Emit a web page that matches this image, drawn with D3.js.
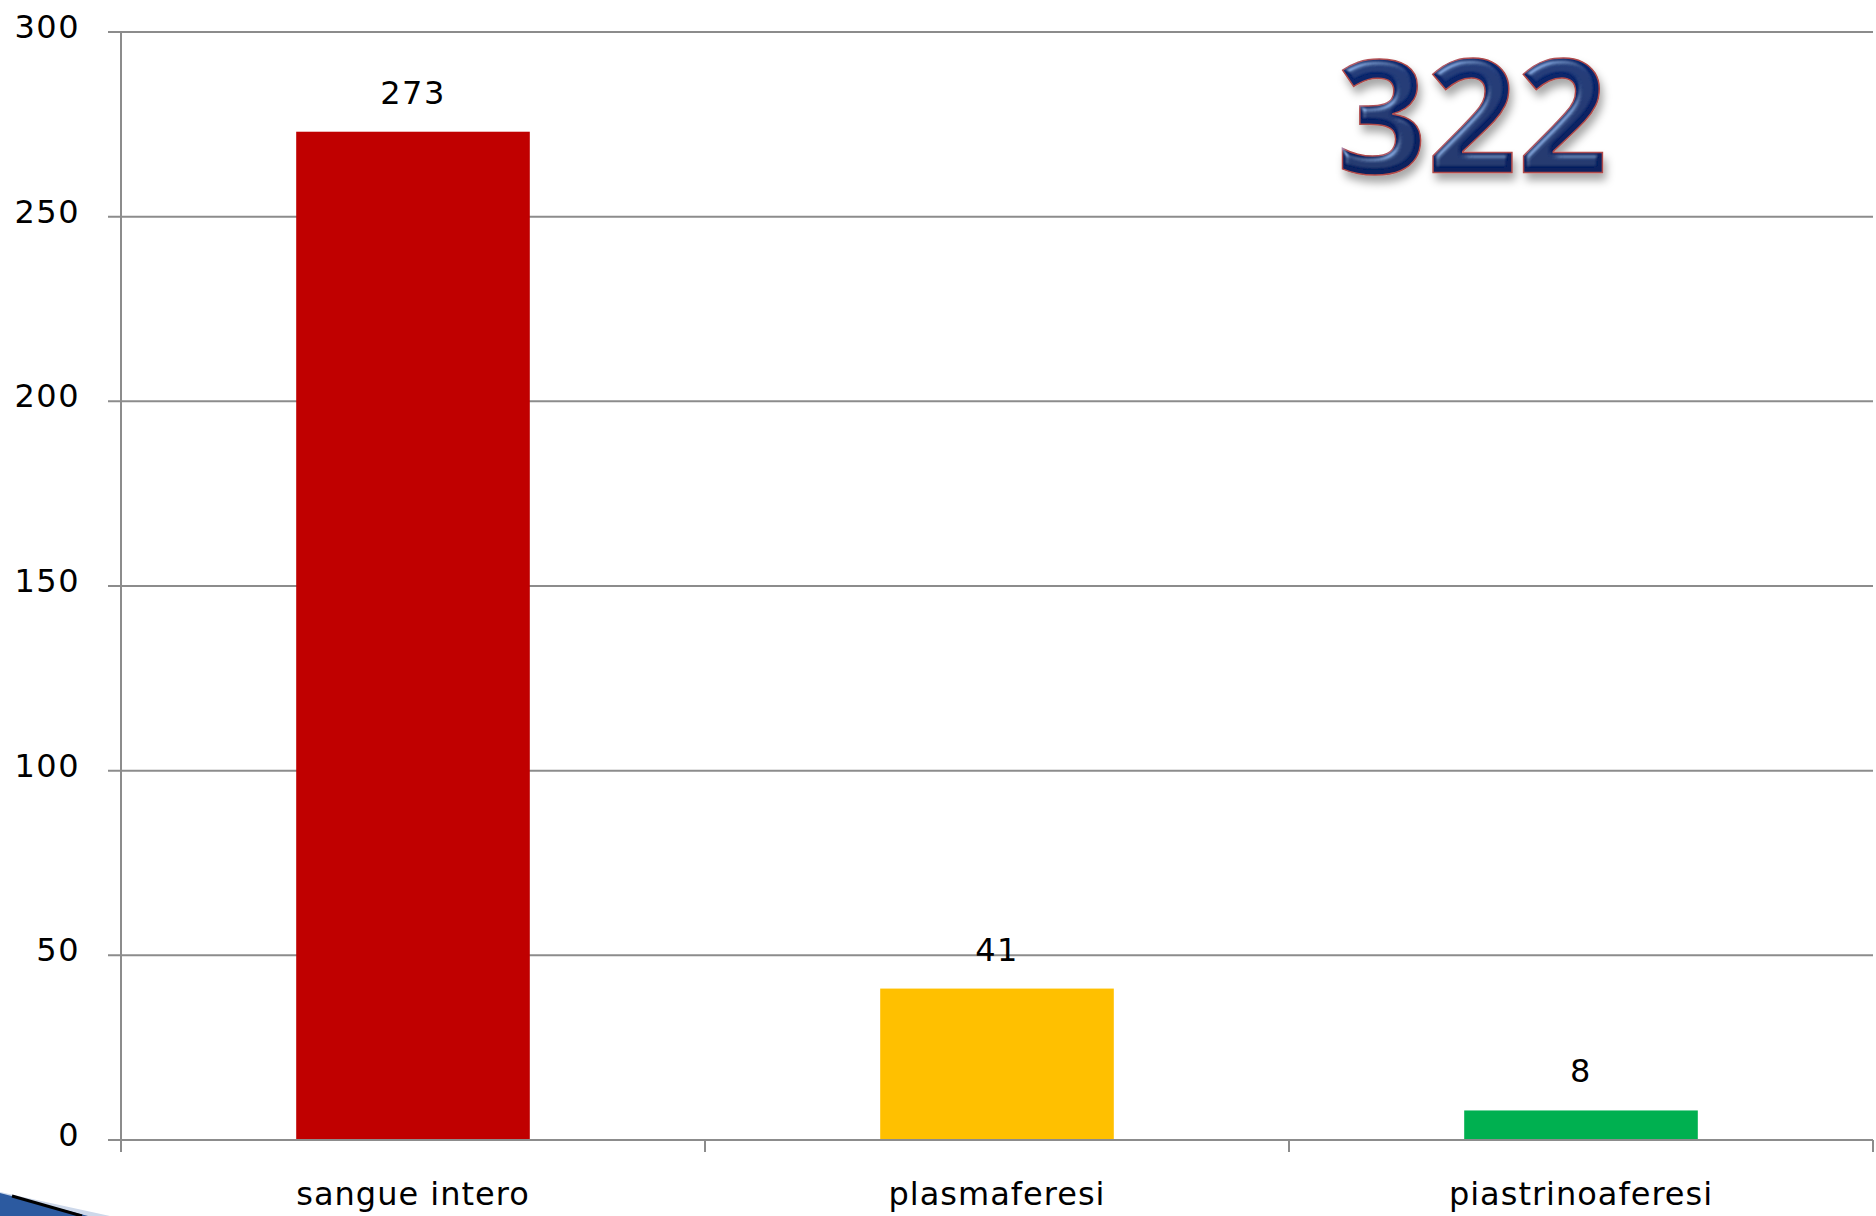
<!DOCTYPE html>
<html>
<head>
<meta charset="utf-8">
<script src="https://cdn.jsdelivr.net/npm/d3@7"></script>
<style>
  html, body { margin: 0; padding: 0; background: #fff; }
  svg { display: block; }
  .tick-label, .cat-label, .val-label { font-family: "DejaVu Sans", Verdana, sans-serif; fill: #000; }
</style>
</head>
<body>
<div id="chart"></div>
<script>
// data
var categories = ['sangue intero', 'plasmaferesi', 'piastrinoaferesi'];
var values = [273, 41, 8];
var barColors = ['#C00000', '#FFC000', '#00B050'];
var yTicks = [0, 50, 100, 150, 200, 250, 300];
var totalLabel = '322';

var width = 1876, height = 1216;
var plotLeft = 121, plotRight = 1873, plotTop = 32, plotBottom = 1140;

var svg = d3.select('#chart')
  .append('svg')
  .attr('width', width)
  .attr('height', height);

var defs = svg.append('defs');

// scales
var x = d3.scaleBand()
  .domain(categories)
  .range([plotLeft, plotRight])
  .paddingInner(0.6)
  .paddingOuter(0.3);

var y = d3.scaleLinear()
  .domain([0, 300])
  .range([plotBottom, plotTop]);

// gridlines + y ticks
svg.selectAll('.grid')
  .data(yTicks)
  .enter()
  .append('line')
  .attr('class', 'grid')
  .attr('x1', plotLeft - 13)
  .attr('x2', plotRight)
  .attr('y1', function(d){ return y(d); })
  .attr('y2', function(d){ return y(d); })
  .attr('stroke', '#8c8c8c')
  .attr('stroke-width', 2);

svg.selectAll('.tick-label')
  .data(yTicks)
  .enter()
  .append('text')
  .attr('class', 'tick-label')
  .attr('x', 80)
  .attr('y', function(d){ return y(d) + 6; })
  .attr('text-anchor', 'end')
  .attr('font-size', 32)
  .attr('letter-spacing', 1.5)
  .text(function(d){ return d; });

// y axis line
svg.append('line')
  .attr('x1', plotLeft).attr('x2', plotLeft)
  .attr('y1', plotTop).attr('y2', plotBottom + 12)
  .attr('stroke', '#8c8c8c')
  .attr('stroke-width', 2);

// category ticks at band edges
var edges = [plotLeft].concat(categories.map(function(c, i){ return plotLeft + x.step() * (i + 1); }));
svg.selectAll('.cat-tick')
  .data(edges)
  .enter()
  .append('line')
  .attr('class', 'cat-tick')
  .attr('x1', function(d){ return d; })
  .attr('x2', function(d){ return d; })
  .attr('y1', plotBottom)
  .attr('y2', plotBottom + 12)
  .attr('stroke', '#8c8c8c')
  .attr('stroke-width', 2);

// bars
svg.selectAll('.bar')
  .data(values)
  .enter()
  .append('rect')
  .attr('class', 'bar')
  .attr('x', function(d, i){ return x(categories[i]); })
  .attr('width', x.bandwidth())
  .attr('y', function(d){ return y(d); })
  .attr('height', function(d){ return plotBottom - y(d); })
  .attr('fill', function(d, i){ return barColors[i]; });

// base line on top of bars
svg.append('line')
  .attr('x1', plotLeft - 13).attr('x2', plotRight)
  .attr('y1', plotBottom).attr('y2', plotBottom)
  .attr('stroke', '#8c8c8c')
  .attr('stroke-width', 2);

// value labels
svg.selectAll('.val-label')
  .data(values)
  .enter()
  .append('text')
  .attr('class', 'val-label')
  .attr('x', function(d, i){ return x(categories[i]) + x.bandwidth() / 2; })
  .attr('y', function(d){ return y(d) - 28; })
  .attr('text-anchor', 'middle')
  .attr('font-size', 32)
  .attr('letter-spacing', 1.5)
  .text(function(d){ return d; });

// category labels
svg.selectAll('.cat-label')
  .data(categories)
  .enter()
  .append('text')
  .attr('class', 'cat-label')
  .attr('x', function(d){ return x(d) + x.bandwidth() / 2; })
  .attr('y', 1205)
  .attr('text-anchor', 'middle')
  .attr('font-size', 32)
  .attr('letter-spacing', 1)
  .text(function(d){ return d; });

// ============== big total ==============
var grad = defs.append('linearGradient')
  .attr('id', 'totGrad')
  .attr('x1', 0).attr('y1', 0).attr('x2', 0).attr('y2', 1);
grad.append('stop').attr('offset', '0%').attr('stop-color', '#14307a');
grad.append('stop').attr('offset', '50%').attr('stop-color', '#0a2364');
grad.append('stop').attr('offset', '100%').attr('stop-color', '#081e5a');

var filt = defs.append('filter')
  .attr('id', 'bevel')
  .attr('x', '-10%').attr('y', '-10%').attr('width', '130%').attr('height', '140%');
filt.append('feGaussianBlur').attr('in', 'SourceAlpha').attr('stdDeviation', 3).attr('result', 'blur');
var spec = filt.append('feSpecularLighting')
  .attr('in', 'blur').attr('surfaceScale', 4).attr('specularConstant', 0.7)
  .attr('specularExponent', 30).attr('lighting-color', '#8fb6f0').attr('result', 'spec');
spec.append('feDistantLight').attr('azimuth', 235).attr('elevation', 45);
filt.append('feComposite').attr('in', 'spec').attr('in2', 'SourceAlpha').attr('operator', 'in').attr('result', 'specIn');
filt.append('feOffset').attr('in', 'SourceAlpha').attr('dx', 3).attr('dy', 7).attr('result', 'off');
filt.append('feGaussianBlur').attr('in', 'off').attr('stdDeviation', 4).attr('result', 'shadowBlur');
filt.append('feFlood').attr('flood-color', '#000').attr('flood-opacity', 0.35).attr('result', 'sc');
filt.append('feComposite').attr('in', 'sc').attr('in2', 'shadowBlur').attr('operator', 'in').attr('result', 'shadow');
var merge = filt.append('feMerge');
merge.append('feMergeNode').attr('in', 'shadow');
merge.append('feMergeNode').attr('in', 'SourceGraphic');
merge.append('feMergeNode').attr('in', 'specIn');

svg.append('text')
  .attr('x', 1472)
  .attr('y', 173)
  .attr('text-anchor', 'middle')
  .attr('font-family', '"Open Sans", Lato, sans-serif')
  .attr('font-weight', 'bold')
  .attr('font-size', 158)
  .attr('fill', 'url(#totGrad)')
  .attr('stroke', '#b04a48')
  .attr('stroke-width', 1.5)
  .attr('filter', 'url(#bevel)')
  .text(totalLabel);

// slide decoration at bottom left
svg.append('path')
  .attr('d', 'M0,1216 L0,1192 L110,1216 Z')
  .attr('fill', '#cdd8ea');
svg.append('path')
  .attr('d', 'M0,1216 L0,1193 L88,1216 Z')
  .attr('fill', '#2c5aa0');
svg.append('line')
  .attr('x1', 12).attr('y1', 1196).attr('x2', 82).attr('y2', 1216)
  .attr('stroke', '#000').attr('stroke-width', 3);
</script>
</body>
</html>
